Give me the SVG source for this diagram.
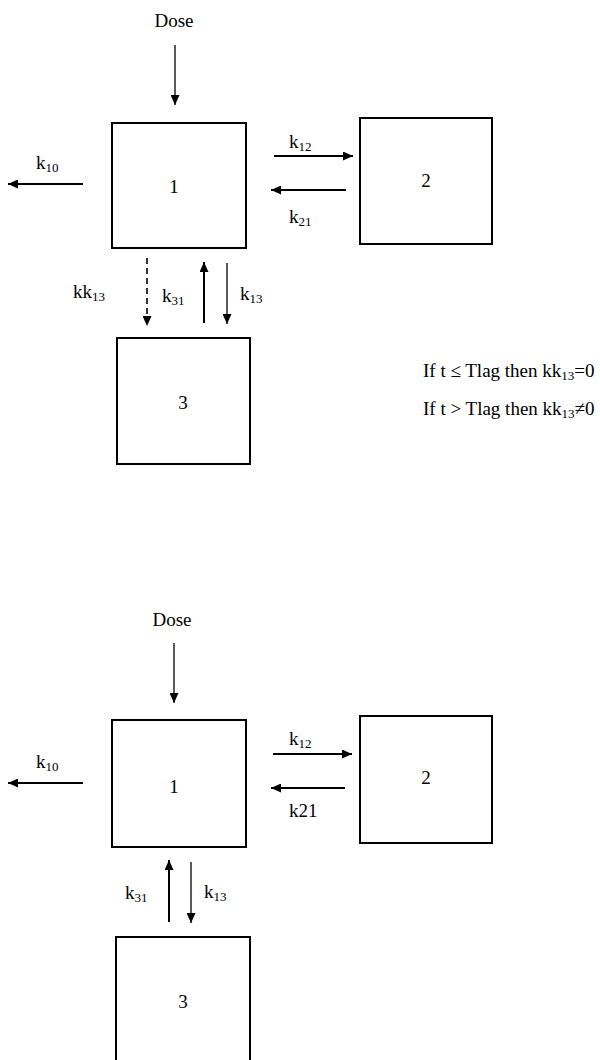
<svg xmlns="http://www.w3.org/2000/svg" width="600" height="1060" viewBox="0 0 600 1060">
<style>
text{font-family:"Liberation Serif","Times New Roman",serif;font-size:19px;fill:#000}
.sub{font-size:13px}
.box{fill:#fff;stroke:#000;stroke-width:2}
.thin{stroke:#000;stroke-width:1.3;fill:none}
.thick{stroke:#000;stroke-width:2;fill:none}
.dash{stroke:#000;stroke-width:1.6;fill:none;stroke-dasharray:6 4}
</style>
<defs>
<marker id="ah" markerUnits="userSpaceOnUse" markerWidth="11" markerHeight="9" refX="10" refY="4.5" orient="auto">
<path d="M0,0 L10,4.5 L0,9 z" fill="#000"/>
</marker>
</defs>
<!-- top diagram -->
<g id="top-dose"><text x="174" y="27" text-anchor="middle">Dose</text></g>
<g id="top-c1"><rect class="box" x="112" y="123" width="134" height="125"/><text x="174" y="193" text-anchor="middle">1</text></g>
<g id="top-c2"><rect class="box" x="360" y="118" width="132" height="126"/><text x="426" y="187" text-anchor="middle">2</text></g>
<g id="top-c3"><rect class="box" x="117" y="338" width="133" height="126"/><text x="183" y="409" text-anchor="middle">3</text></g>
<g id="top-connectors">
<line class="thin" x1="175" y1="45" x2="175" y2="105" marker-end="url(#ah)"/>
<line class="thick" x1="83" y1="184" x2="8" y2="184" marker-end="url(#ah)"/>
<line class="thick" x1="274" y1="156" x2="353" y2="156" marker-end="url(#ah)"/>
<line class="thick" x1="346" y1="190" x2="271" y2="190" marker-end="url(#ah)"/>
<line class="dash" x1="147" y1="258" x2="147" y2="326" marker-end="url(#ah)"/>
<line class="thick" x1="204" y1="323" x2="204" y2="262" marker-end="url(#ah)"/>
<line class="thin" x1="227" y1="263" x2="227" y2="324" marker-end="url(#ah)"/>
</g>
<g id="top-labels">
<text x="36" y="169">k<tspan class="sub" dy="3">10</tspan></text>
<text x="289" y="148">k<tspan class="sub" dy="3">12</tspan></text>
<text x="289" y="223">k<tspan class="sub" dy="3">21</tspan></text>
<text x="73" y="298">kk<tspan class="sub" dy="3">13</tspan></text>
<text x="162" y="302">k<tspan class="sub" dy="3">31</tspan></text>
<text x="240" y="300">k<tspan class="sub" dy="3">13</tspan></text>
</g>
<g id="conditions">
<text x="423" y="377">If t ≤ Tlag then kk<tspan class="sub" dy="3">13</tspan><tspan dy="-3">=0</tspan></text>
<text x="423" y="415">If t &gt; Tlag then kk<tspan class="sub" dy="3">13</tspan><tspan dy="-3">≠0</tspan></text>
</g>
<!-- bottom diagram -->
<g id="bot-dose"><text x="172" y="626" text-anchor="middle">Dose</text></g>
<g id="bot-c1"><rect class="box" x="112" y="720" width="134" height="127"/><text x="174" y="793" text-anchor="middle">1</text></g>
<g id="bot-c2"><rect class="box" x="360" y="716" width="132" height="127"/><text x="426" y="784" text-anchor="middle">2</text></g>
<g id="bot-c3"><rect class="box" x="116" y="937" width="134" height="128"/><text x="183" y="1008" text-anchor="middle">3</text></g>
<g id="bot-connectors">
<line class="thin" x1="174" y1="643" x2="174" y2="703" marker-end="url(#ah)"/>
<line class="thick" x1="83" y1="783" x2="8" y2="783" marker-end="url(#ah)"/>
<line class="thick" x1="273" y1="754" x2="352" y2="754" marker-end="url(#ah)"/>
<line class="thick" x1="345" y1="788" x2="271" y2="788" marker-end="url(#ah)"/>
<line class="thick" x1="169" y1="922" x2="169" y2="860" marker-end="url(#ah)"/>
<line class="thin" x1="191" y1="862" x2="191" y2="923" marker-end="url(#ah)"/>
</g>
<g id="bot-labels">
<text x="36" y="768">k<tspan class="sub" dy="3">10</tspan></text>
<text x="289" y="745">k<tspan class="sub" dy="3">12</tspan></text>
<text x="289" y="817">k21</text>
<text x="125" y="899">k<tspan class="sub" dy="3">31</tspan></text>
<text x="204" y="898">k<tspan class="sub" dy="3">13</tspan></text>
</g>
</svg>
